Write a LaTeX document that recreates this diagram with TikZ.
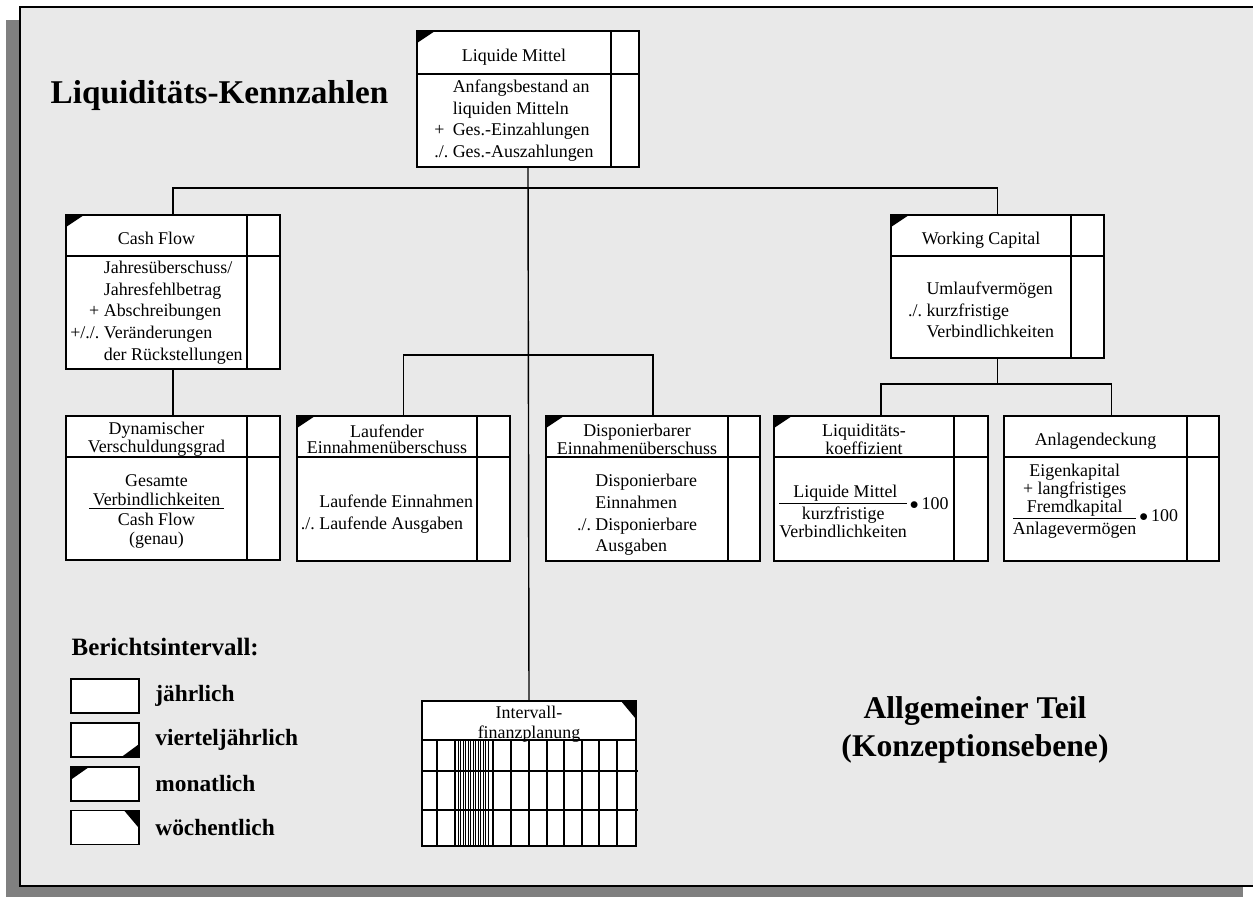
\documentclass[tikz,border=0pt]{standalone}
\usepackage{amsmath}
\usepackage{fontspec}
\setmainfont{Liberation Serif}
\usetikzlibrary{positioning, calc}
\definecolor{panelgray}{HTML}{E9E9E9}
\definecolor{shadowgray}{HTML}{808080}

\begin{document}
\begin{tikzpicture}[
        x=0.02cm, y=-0.02cm,
        thick,
        % Define styles for the key figure boxes and the legend
        kbox/.style={draw, fill=white, rectangle, inner sep=0pt, outer sep=0pt, anchor=north west},
        head/.style={align=center, inner sep=0pt, yshift=-0.06cm, font=\fontsize{10.2}{9.1}\selectfont},
        head1/.style={head, text depth=0pt},
        body/.style={align=center, inner sep=0pt, font=\fontsize{10.2}{12.3}\selectfont},
        legbox/.style={draw, fill=white, rectangle, minimum width=1.36cm, minimum height=0.68cm, inner sep=0pt},
        legtext/.style={inner sep=0pt, font=\fontsize{13.3}{16}\selectfont\bfseries},
        bigtitle/.style={align=center, font=\fontsize{18}{22}\selectfont\bfseries},
        node distance=0.17cm
    ]

    % Panel with shadow
    \useasboundingbox (0,0) rectangle (1253,897);
    \fill[shadowgray] (6,20) rectangle (1243,897);
    \fill[panelgray] (20,7) rectangle (1270,886);
    \draw (1270,7) -- (20,7) -- (20,886) -- (1270,886);

    % Boxes: name/x/y/width/height/header height/side column
    \foreach \n/\x/\y/\w/\h/\hh/\s in {liq/417/31/222/136/43/28, cf/66/215/214/154/41/33, wc/891/215/213/143/41/33, dyn/66/416/214/144/41/33, lauf/297/416/213/145/41/33, disp/546/416/214/145/41/32, lk/774/416/214/145/41/34, anl/1004/416/215/145/41/32, ivp/422/701/214/145/39/0} {
        \node[kbox, minimum width=\w*0.02cm, minimum height=\h*0.02cm] (\n) at (\x,\y) {};
        \draw ($(\n.north west)+(0,\hh)$) -- ($(\n.north east)+(0,\hh)$);
        \draw ($(\n.north east)+(-\s,0)$) -- ($(\n.south east)+(-\s,0)$);
        \coordinate (\n-h) at ($(\x,\y)+(\w/2-\s/2,\hh/2)$);
        \coordinate (\n-b) at ($(\x,\y)+(\w/2-\s/2,\hh/2+\h/2)$);
    }

    % Reporting interval markers
    \foreach \n in {liq, cf, wc, lauf, disp, lk}
        \fill (\n.north west) -- ++(18,0) -- ++(-18,12) -- cycle;
    \fill (ivp.north east) -- ++(-15,0) -- ++(15,18) -- cycle;

    % Box texts
    \node[head1] (liq-t) at (liq-h) {Liquide Mittel};
    \node[body] (liq-x) at (liq-b) {\begin{tabular}{@{}l@{\ }l@{}} & Anfangsbestand an\\ & liquiden Mitteln\\+ & Ges.-Einzahlungen\\./. & Ges.-Auszahlungen\end{tabular}};
    \node[head1] (cf-t) at (cf-h) {Cash Flow};
    \node[body] (cf-x) at (cf-b) {\begin{tabular}{@{}r@{\ }l@{}} & Jahresüberschuss/\\ & Jahresfehlbetrag\\+ & Abschreibungen\\+/./. & Veränderungen\\ & der Rückstellungen\end{tabular}};
    \node[head1] (wc-t) at (wc-h) {Working Capital};
    \node[body, yshift=-0.1cm] (wc-x) at (wc-b) {\begin{tabular}{@{}l@{\ }l@{}} & Umlaufvermögen\\./. & kurzfristige\\ & Verbindlichkeiten\end{tabular}};
    \node[head] (dyn-t) at (dyn-h) {Dynamischer\\Verschuldungsgrad};
    \node[body, yshift=-0.06cm, font=\fontsize{10.2}{11}\selectfont] (dyn-x) at (dyn-b) {Gesamte\\\underline{\hspace{2pt}Verbindlichkeiten\hspace{2pt}}\\Cash Flow\\(genau)};
    \node[head] (lauf-t) at (lauf-h) {Laufender\\Einnahmenüberschuss};
    \node[body, yshift=-0.1cm] (lauf-x) at (lauf-b) {\begin{tabular}{@{}l@{\ }l@{}} & Laufende Einnahmen\\./. & Laufende Ausgaben\end{tabular}};
    \node[head] (disp-t) at (disp-h) {Disponierbarer\\Einnahmenüberschuss};
    \node[body, yshift=-0.12cm] (disp-x) at (disp-b) {\begin{tabular}{@{}l@{\ }l@{}} & Disponierbare\\ & Einnahmen\\./. & Disponierbare\\ & Ausgaben\end{tabular}};
    \node[head] (lk-t) at (lk-h) {Liquiditäts-\\koeffizient};
    \node[body, yshift=-0.1cm, font=\fontsize{10.2}{10}\selectfont] (lk-x) at (lk-b) {\begin{tabular}[t]{@{}c@{}}\ Liquide Mittel\ \\\hline\rule{0pt}{9pt}kurzfristige\\Verbindlichkeiten\end{tabular}\raisebox{-6.5pt}{\,$\bullet$\,100}};
    \node[head1] (anl-t) at (anl-h) {Anlagendeckung};
    \node[body, yshift=0.14cm, font=\fontsize{10.2}{10}\selectfont] (anl-x) at (anl-b) {\begin{tabular}[b]{@{}c@{}}Eigenkapital\\+ langfristiges\\Fremdkapital\\\hline\rule{0pt}{9pt}Anlagevermögen\end{tabular}\raisebox{7.5pt}{\,$\bullet$\,100}};
    \node[head, yshift=-0.02cm, font=\fontsize{10.2}{11.3}\selectfont] (ivp-t) at (ivp-h) {Intervall-\\finanzplanung};

    % Grid of the planning table
    \foreach \gx in {458,460.5,...,488} \draw[line width=0.4pt] (\gx,740) -- (\gx,846);
    \foreach \gx in {437,455,493,511,529,547,564,582,599,617} \draw (\gx,740) -- (\gx,846);
    \foreach \gy in {771,810} \draw (422,\gy) -- (638,\gy);

    % Connecting lines
    \coordinate (jTop) at (liq.south |- 0,188);
    \coordinate (jMid) at (liq.south |- 0,355);
    \coordinate (jWc) at (wc.south |- 0,384);
    \draw (liq.south) -- (ivp.north);
    \draw (cf.north) |- (jTop) -| (wc.north);
    \draw (cf.south) -- (dyn.north);
    \draw (lauf.north) |- (jMid) -| (disp.north);
    \draw (wc.south) -- (jWc);
    \draw (lk.north) |- (jWc) -| (anl.north);

    % Legend
    \node[legtext, anchor=base west, font=\fontsize{14.2}{16}\selectfont\bfseries] (legtitle) at (71,655) {Berichtsintervall:};
    \node[legbox] (lgJ) at (105,696) {};
    \node[legbox, below=of lgJ] (lgV) {};
    \node[legbox, below=of lgV] (lgM) {};
    \node[legbox, below=of lgM] (lgW) {};
    \node[legtext, right=0.3cm of lgJ] (lgJt) {jährlich};
    \node[legtext, right=0.3cm of lgV] (lgVt) {vierteljährlich};
    \node[legtext, right=0.3cm of lgM] (lgMt) {monatlich};
    \node[legtext, right=0.3cm of lgW] (lgWt) {wöchentlich};
    \fill (lgV.south east) -- ++(-19,0) -- ++(19,-14) -- cycle;
    \fill (lgM.north west) -- ++(20,0) -- ++(-20,14) -- cycle;
    \fill (lgW.north east) -- ++(-16,0) -- ++(16,19) -- cycle;

    % Titles
    \node[bigtitle, anchor=base west, inner sep=0pt, font=\fontsize{18.9}{22}\selectfont\bfseries] (title) at (50,103) {Liquiditäts-Kennzahlen};
    \node[bigtitle] (part) at (975,730) {Allgemeiner Teil\\(Konzeptionsebene)};

\end{tikzpicture}
\end{document}
